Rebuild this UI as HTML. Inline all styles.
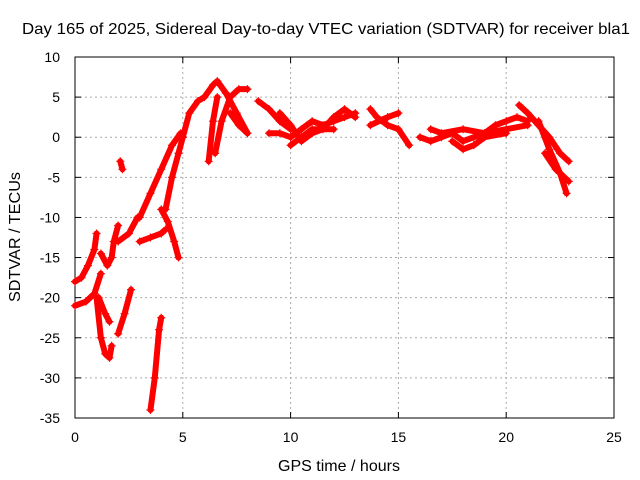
<!DOCTYPE html>
<html><head><meta charset="utf-8"><style>
body{margin:0;background:#fff;}
svg{display:block;font-family:"Liberation Sans",sans-serif;}
</style></head><body>
<svg id="chart" width="640" height="480" xmlns="http://www.w3.org/2000/svg">
<rect width="640" height="480" fill="#fff"/>
<text x="22" y="34" font-size="16" textLength="608" lengthAdjust="spacingAndGlyphs">Day 165 of 2025, Sidereal Day-to-day VTEC variation (SDTVAR) for receiver bla1</text>
<text x="278" y="471" font-size="16" textLength="122" lengthAdjust="spacingAndGlyphs">GPS time / hours</text>
<text transform="translate(20,302) rotate(-90)" font-size="16" textLength="130" lengthAdjust="spacingAndGlyphs">SDTVAR / TECUs</text>
<g id="grid"></g><g id="axes"></g><g id="marks"></g>
</svg>
<script>
const xTicks=[0,5,10,15,20,25];
const yTicks=[10,5,0,-5,-10,-15,-20,-25,-30,-35];
const track1=[[0,-18],[0.3,-17.5],[0.6,-16],[0.9,-14],[1.0,-12]];
const track2=[[0,-21],[0.5,-20.5],[0.9,-19.5],[1.2,-17]];
const track3=[[1.0,-20],[1.2,-25],[1.4,-27],[1.6,-27.5],[1.7,-26]];
const track4=[[1.1,-20],[1.4,-22],[1.6,-23]];
const track5=[[1.2,-14.5],[1.5,-16],[1.7,-15],[1.8,-13],[2.0,-11]];
const track6=[[2.0,-13],[2.5,-12],[2.9,-10]];
const track7=[[2.1,-3],[2.2,-4]];
const track8=[[2.0,-24.5],[2.3,-22],[2.6,-19]];
const track9=[[3.5,-34],[3.7,-30],[3.9,-24],[4.0,-22.5]];
const track10=[[3.0,-13],[3.5,-12.5],[4.0,-12],[4.2,-11.5]];
const track11=[[3.0,-10],[3.5,-7],[4.0,-4],[4.5,-1],[4.9,0.5]];
const track12=[[4.0,-9],[4.3,-10.5],[4.6,-13],[4.8,-15]];
const track13=[[4.2,-9],[4.5,-5],[4.8,-2],[5.0,0]];
const track14=[[5.0,0],[5.3,3],[5.7,4.5],[6.0,5],[6.4,6.5],[6.6,7],[7.0,5.5],[7.5,3],[8,0.5]];
const track15=[[6.2,-3],[6.4,2],[6.6,5]];
const track16=[[6.5,-2],[6.8,2],[7.2,5],[7.6,6],[8.0,6]];
const track17=[[7.2,3],[7.6,1.5],[8.0,0.5]];
const track18=[[8.5,4.5],[9,3.5],[9.5,2],[10,1]];
const track19=[[9,0.5],[9.5,0.5],[10,0],[10.5,1],[11,2],[11.5,1.5],[12,2],[12.5,2.5],[13,3]];
const track20=[[9.5,3],[10,1.5],[10.5,-0.5],[11,0.5],[11.5,1],[12,2.5],[12.5,3.5],[13,2.5]];
const track21=[[10,-1],[10.5,0],[11,1],[12,1]];
const track22=[[13.7,3.5],[14,2.5],[14.5,1.5],[15,1],[15.5,-1]];
const track23=[[13.7,1.5],[14.5,2.5],[15,3]];
const track24=[[16,0],[16.5,-0.5],[17,0],[17.5,0.5],[18,-0.5],[18.5,0],[19,0.5],[19.5,1.5],[20,2],[20.5,2.5],[21,2]];
const track25=[[16.5,1],[17,0.5],[18,1],[19,0.5],[20,1],[21,1.5]];
const track26=[[17.5,-0.5],[18,-1.5],[18.5,-1],[19,0],[20,0.5]];
const track27=[[20.6,4],[21,3],[21.5,1.5],[22,0],[22.5,-2],[22.9,-3]];
const track28=[[21.5,2],[22,-1.5],[22.5,-4.5],[22.8,-7]];
const track29=[[21.8,-2],[22.3,-4],[22.9,-5.5]];
const tracks=[track1,track2,track3,track4,track5,track6,track7,track8,track9,track10,track11,track12,track13,track14,track15,track16,track17,track18,track19,track20,track21,track22,track23,track24,track25,track26,track27,track28,track29];
const X0=75,X1=614,Y0=418,Y1=57;
const sx=v=>X0+(v-0)/(25-0)*(X1-X0);
const sy=v=>Y0-(v+35)/(45)*(Y0-Y1);
const NS="http://www.w3.org/2000/svg";
function mk(tag,attrs,parent){const e=document.createElementNS(NS,tag);for(const k in attrs)e.setAttribute(k,attrs[k]);parent.appendChild(e);return e;}
const grid=document.getElementById('grid'),axes=document.getElementById('axes'),marks=document.getElementById('marks');
xTicks.forEach(t=>{
  const x=sx(t);
  if(t>0&&t<25){const g=mk('line',{x1:x,x2:x,y1:Y1,y2:Y0,stroke:'#aaa','stroke-dasharray':'2,3','stroke-width':1},grid);
  
  }
  mk('line',{x1:x,x2:x,y1:Y0,y2:Y0-6,stroke:'#000'},axes);
  mk('line',{x1:x,x2:x,y1:Y1,y2:Y1+6,stroke:'#000'},axes);
  const tx=mk('text',{x:x,y:Y0+24,'font-size':14,'text-anchor':'middle'},axes);tx.textContent=t;
  
  
});
yTicks.forEach(t=>{
  const y=sy(t);
  if(t>-35&&t<10){const g=mk('line',{x1:X0,x2:X1,y1:y,y2:y,stroke:'#aaa','stroke-dasharray':'2,3','stroke-width':1},grid);
  
  }
  mk('line',{x1:X0,x2:X0+6,y1:y,y2:y,stroke:'#000'},axes);
  mk('line',{x1:X1,x2:X1-6,y1:y,y2:y,stroke:'#000'},axes);
  const tx=mk('text',{x:X0-15,y:y+5,'font-size':14,'text-anchor':'end'},axes);tx.textContent=t;
  
  
});
const frame=mk('rect',{x:X0,y:Y1,width:X1-X0,height:Y0-Y1,fill:'none',stroke:'#000'},axes);


tracks.forEach(tr=>{
  const pl=mk('polyline',{points:tr.map(p=>sx(p[0])+','+sy(p[1])).join(' '),fill:'none',stroke:'#f00','stroke-width':6,'stroke-linejoin':'round','stroke-linecap':'round'},marks);
  
  
  tr.forEach(p=>{
    const x=sx(p[0]),y=sy(p[1]);
    const m=mk('path',{d:`M${x-4},${y}H${x+4}M${x},${y-4}V${y+4}`,stroke:'#f00','stroke-width':1.2},marks);
    
    
  });
});
</script>
</body></html>
